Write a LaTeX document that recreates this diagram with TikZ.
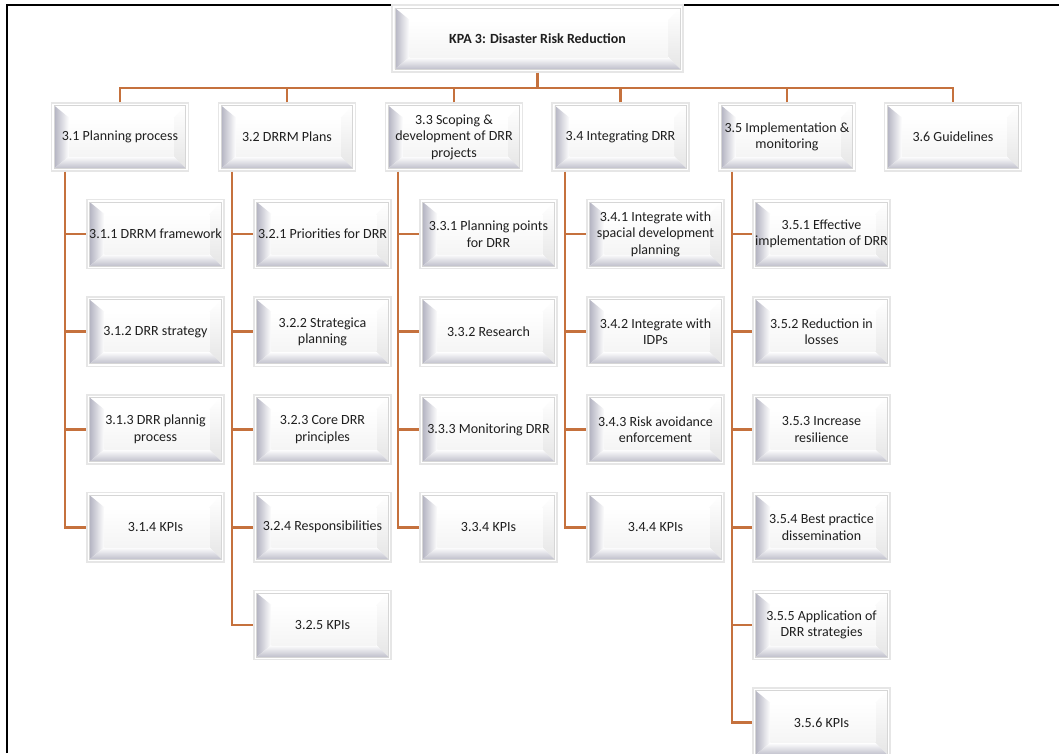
\documentclass[tikz,border=0pt]{standalone}
\usepackage{fontspec}
\setmainfont{Carlito}
\usetikzlibrary{calc}

\definecolor{branch}{HTML}{C5713D}
\definecolor{bevgray}{HTML}{B4B4C2}
\definecolor{edgegray}{HTML}{E6E6E6}

\tikzset{
  link/.style={draw=branch, line width=2pt},
  bevel/.style={
    draw=edgegray, line width=1.1pt, fill=white, inner sep=0pt, align=center,
    font=\fontsize{10.5}{12.4}\selectfont, text=black!88,
    path picture={
      \path (path picture bounding box.south west) coordinate (bsw)
            (path picture bounding box.north east) coordinate (bne);
      \coordinate (bnw) at (bsw |- bne);
      \coordinate (bse) at (bne |- bsw);
      % outer corners of the bevel
      \coordinate (o1) at ([shift={(2pt,2pt)}]bsw);
      \coordinate (o2) at ([shift={(2pt,-2pt)}]bnw);
      \coordinate (o3) at ([shift={(-2pt,-2pt)}]bne);
      \coordinate (o4) at ([shift={(-2pt,2pt)}]bse);
      % inner corners (face)
      \coordinate (n1) at ([shift={(13pt,11pt)}]bsw);
      \coordinate (n2) at ([shift={(13pt,-11pt)}]bnw);
      \coordinate (n3) at ([shift={(-11pt,-11pt)}]bne);
      \coordinate (n4) at ([shift={(-11pt,11pt)}]bse);
      \fill[white] (o2) -- (o3) -- (n3) -- (n2) -- cycle;
      \shade[top color=white, bottom color=black!10] (o4) -- (o3) -- (n3) -- (n4) -- cycle;
      \shade[left color=bevgray, right color=white] (o1) -- (o2) -- (n2) -- (n1) -- cycle;
      \shade[bottom color=bevgray!85, top color=white] (o1) -- (n1) -- (n4) -- (o4) -- cycle;
      \shade[top color=white, bottom color=black!4] (n1) rectangle (n3);
      \draw[black!16, line width=0.5pt] (o1) rectangle (o3);
    }
  },
  headbox/.style={bevel, minimum width=218pt, minimum height=50pt, font=\fontsize{10.5}{12.4}\selectfont\bfseries},
  areabox/.style={bevel, minimum width=102.5pt, minimum height=51pt},
  itembox/.style={bevel, minimum width=102.75pt, minimum height=52pt},
}

\begin{document}
\begin{tikzpicture}[x=0.75pt, y=-0.75pt]
\useasboundingbox (0,0) rectangle (1059,753);
\clip (0,0) rectangle (1059,753);

% page frame
\draw[black, line width=1.5pt] (6.5,753) -- (6.5,4.5) -- (1059,4.5);

% root
\node[headbox] (kpa) at (537.5,38.5) {KPA 3: Disaster Risk Reduction};

% key result areas
\node[areabox] (a1) at (120,137)   {3.1 Planning process};
\node[areabox] (a2) at (287,137)   {3.2 DRRM Plans};
\node[areabox] (a3) at (454,137)   {3.3 Scoping \&\\development of DRR\\projects};
\node[areabox] (a4) at (620.5,137) {3.4 Integrating DRR};
\node[areabox] (a5) at (787,137)   {3.5 Implementation \&\\monitoring};
\node[areabox] (a6) at (953,137)   {3.6 Guidelines};

% spines
\coordinate (bar) at (0,88);
\coordinate (s1) at (65,0);
\coordinate (s2) at (232,0);
\coordinate (s3) at (398,0);
\coordinate (s4) at (565,0);
\coordinate (s5) at (732,0);

% items
\node[itembox] (i11) at (155.5,234)    {3.1.1 DRRM framework};
\node[itembox] (i12) at (155.5,331.75) {3.1.2 DRR strategy};
\node[itembox] (i13) at (155.5,429.5)  {3.1.3 DRR plannig\\process};
\node[itembox] (i14) at (155.5,527.25) {3.1.4 KPIs};

\node[itembox] (i21) at (322.5,234)    {3.2.1 Priorities for DRR};
\node[itembox] (i22) at (322.5,331.75) {3.2.2 Strategica\\planning};
\node[itembox] (i23) at (322.5,429.5)  {3.2.3 Core DRR\\principles};
\node[itembox] (i24) at (322.5,527.25) {3.2.4 Responsibilities};
\node[itembox] (i25) at (322.5,625)    {3.2.5 KPIs};

\node[itembox] (i31) at (488.5,234)    {3.3.1 Planning points\\for DRR};
\node[itembox] (i32) at (488.5,331.75) {3.3.2 Research};
\node[itembox] (i33) at (488.5,429.5)  {3.3.3 Monitoring DRR};
\node[itembox] (i34) at (488.5,527.25) {3.3.4 KPIs};

\node[itembox] (i41) at (655.5,234)    {3.4.1 Integrate with\\spacial development\\planning};
\node[itembox] (i42) at (655.5,331.75) {3.4.2 Integrate with\\IDPs};
\node[itembox] (i43) at (655.5,429.5)  {3.4.3 Risk avoidance\\enforcement};
\node[itembox] (i44) at (655.5,527.25) {3.4.4 KPIs};

\node[itembox] (i51) at (821.5,234)    {3.5.1 Effective\\implementation of DRR};
\node[itembox] (i52) at (821.5,331.75) {3.5.2 Reduction in\\losses};
\node[itembox] (i53) at (821.5,429.5)  {3.5.3 Increase\\resilience};
\node[itembox] (i54) at (821.5,527.25) {3.5.4 Best practice\\dissemination};
\node[itembox] (i55) at (821.5,625)    {3.5.5 Application of\\DRR strategies};
\node[itembox] (i56) at (821.5,722.75) {3.5.6 KPIs};

% root to areas
\draw[link] (kpa.south) -- (kpa.south |- bar);
\draw[link] (a1.north) |- (a6.north |- bar) -- (a6.north);
\foreach \a in {a2,a3,a4,a5}
  \draw[link] (\a.north) -- (\a.north |- bar);

% areas to items
\draw[link] (a1.south -| s1) |- (i14.west);
\foreach \i in {i11,i12,i13}
  \draw[link] (s1 |- \i.west) -- (\i.west);

\draw[link] (a2.south -| s2) |- (i25.west);
\foreach \i in {i21,i22,i23,i24}
  \draw[link] (s2 |- \i.west) -- (\i.west);

\draw[link] (a3.south -| s3) |- (i34.west);
\foreach \i in {i31,i32,i33}
  \draw[link] (s3 |- \i.west) -- (\i.west);

\draw[link] (a4.south -| s4) |- (i44.west);
\foreach \i in {i41,i42,i43}
  \draw[link] (s4 |- \i.west) -- (\i.west);

\draw[link] (a5.south -| s5) |- (i56.west);
\foreach \i in {i51,i52,i53,i54,i55}
  \draw[link] (s5 |- \i.west) -- (\i.west);
\end{tikzpicture}
\end{document}
